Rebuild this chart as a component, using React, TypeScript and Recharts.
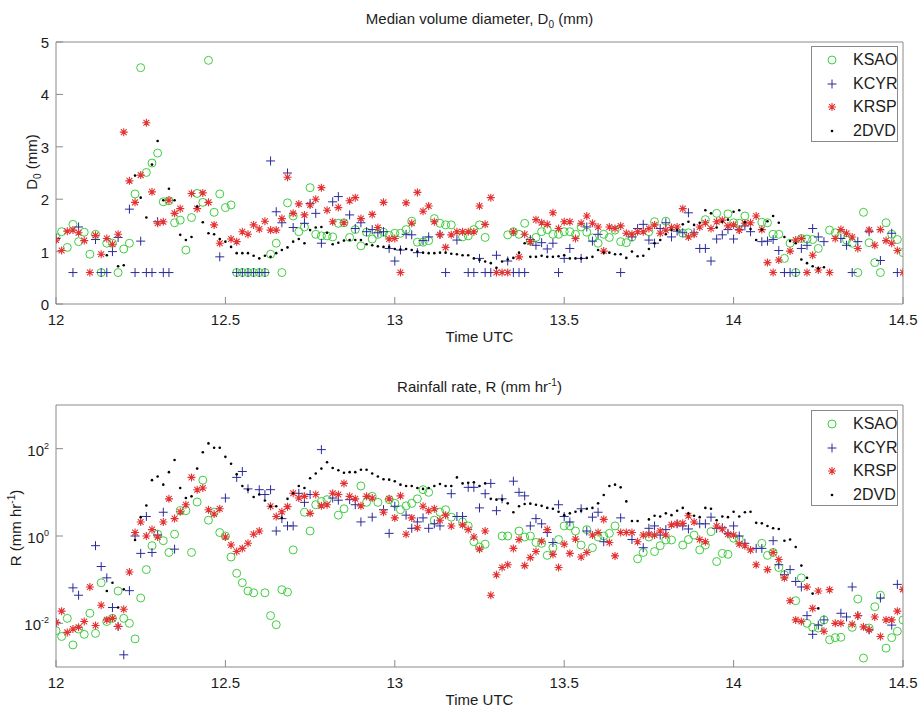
import React from "react";
import { ScatterChart, Scatter, XAxis, YAxis, Legend, Label } from "recharts";

const _ = null;

// one sample per minute, 12:00 -> 14:30 UTC
const startHour = 12;
const sampleCount = 151;
const timeUTC = Array.from({ length: sampleCount }, (_v, i) => startHour + i / 60);

const timeTicks = [12, 12.5, 13, 13.5, 14, 14.5];
const d0Ticks = [0, 1, 2, 3, 4, 5];
const rateTicks = [0.01, 1, 100];

const seriesNames = ["KSAO", "KCYR", "KRSP", "2DVD"];

// median volume diameter D0 (mm)
const ksaoD0 = [
  1.27, 1.38, 1.08, 1.52, 1.19, 1.37, 0.95, 1.33, 0.6, 1.16,
  1.16, 0.6, 1.05, 1.16, 2.1, 4.51, 2.51, 2.69, 2.88, 1.95,
  1.97, 1.55, 1.6, 1.03, 1.65, 2.11, 1.94, 4.65, 1.75, 2.1,
  1.84, 1.89, 0.6, 0.6, 0.6, 0.6, 0.6, 0.6, 0.95, 1.16,
  0.6, 1.93, 1.68, 1.38, 1.47, 2.22, 1.33, 1.3, 1.3, 1.28,
  1.54, 1.55, 1.27, 1.42, 1.11, 1.37, 1.24, 1.33, 1.37, 1.31,
  1.35, 1.35, 1.42, 1.58, 1.18, 1.18, 1.21, 1.63, 1.54, 1.51,
  1.51, _, 1.28, 1.3, 1.42, 1.51, 1.27, _, _, _,
  1.32, 1.38, 1.33, 1.54, 1.2, 1.27, 1.38, 1.42, 1.33, 1.33,
  1.38, 1.38, 1.33, 1.47, 1.37, 1.26, 1.16, 1.33, 1.27, 1.41,
  1.19, 1.17, 1.28, _, _, 1.38, 1.57, _, 1.58, _,
  _, 1.35, 1.36, _, _, 1.61, _, 1.73, _, 1.72,
  1.55, 1.54, 1.68, _, _, 1.56, 1.55, 1.33, 1.33, 0.87,
  1.16, 0.6, 1.25, 1.24, 1.23, 1.06, _, 1.41, 1.36, 1.32,
  1.22, 1.16, 0.6, 1.75, 1.17, 0.79, 0.6, 1.55, 1.33, 1.23,
  0.98,
];
const kcyrD0 = [
  1.25, _, _, 0.6, 1.47, _, _, 1.23, 0.6, 0.6,
  1.0, 1.27, _, 1.81, 0.6, 1.2, 0.6, 0.6, 1.57, 0.6,
  0.6, _, _, _, _, _, _, _, _, 0.9,
  _, _, 0.6, 0.6, 0.6, 0.6, 0.6, 0.6, 2.73, 1.76,
  1.55, 2.5, 1.46, _, 1.54, 1.92, 1.73, 1.16, _, 1.95,
  2.05, _, 1.7, 1.44, 1.55, 1.38, 1.42, 1.36, 1.38, 1.06,
  0.82, 1.03, 1.33, 1.32, 0.98, 1.21, 1.28, _, 1.33, 0.6,
  _, 1.22, _, 0.6, 0.6, 0.87, 0.6, 0.6, 0.93, _,
  0.82, 0.6, 0.6, 0.6, 1.23, 1.12, 1.17, 1.05, 1.16, 0.6,
  0.87, 1.06, _, 0.87, 1.47, 1.2, 1.33, _, _, _,
  0.6, _, 1.28, 1.44, 1.52, 1.22, 1.16, 1.44, 1.55, 1.28,
  1.39, 1.36, 1.74, 1.36, 1.06, 1.06, 0.82, 1.24, 1.32, 1.42,
  1.24, 1.42, 1.49, 1.38, _, 1.19, 1.2, 1.23, 1.02, 0.6,
  0.6, 0.6, 1.06, 1.12, 1.44, 1.28, 1.19, _, _, 1.25,
  1.12, 0.6, 1.19, _, 1.38, _, 0.83, _, 1.35, 0.6,
  _,
];
const krspD0 = [
  1.22, 1.02, 1.39, 1.41, 1.36, 1.21, 0.6, 1.31, 0.95, 1.25,
  1.14, 1.33, 3.28, 2.35, 1.94, 2.46, 3.46, 2.14, 1.54, 1.57,
  1.98, 1.73, 1.82, _, 2.11, 1.82, 2.12, 1.94, 1.51, 1.16,
  _, 1.24, 1.19, 1.38, 1.33, 1.51, 1.43, 1.58, 1.41, 1.41,
  1.63, 2.42, 1.73, 1.91, 1.7, 1.89, 2.0, 2.22, 1.79, 1.57,
  1.84, 1.55, 1.97, 2.03, 1.63, _, 1.71, 1.46, 1.94, 1.24,
  1.25, 0.6, 1.93, 1.54, 2.13, 1.77, 1.87, 1.57, 1.32, 1.08,
  1.32, 1.38, 1.38, 1.38, 1.38, 1.87, 1.52, 2.03, 0.6, 0.6,
  0.6, 1.38, 0.9, 1.33, 1.19, 1.61, 1.55, 1.52, 1.74, 1.44,
  1.57, 1.57, 1.25, 1.54, 1.68, 1.54, 1.47, 1.01, 1.47, 1.44,
  1.49, 1.35, 1.33, 1.38, 1.38, 1.44, 1.51, 1.35, 1.41, 1.46,
  1.47, 1.82, 1.28, 1.33, 1.47, 1.55, 1.44, 1.57, 1.6, 1.49,
  1.51, 1.41, 1.54, 1.55, 1.68, 1.42, 0.79, 0.6, 0.84, _,
  1.01, 1.22, 1.25, 0.6, 0.93, 0.65, _, 0.6, 1.25, 1.42,
  1.35, 1.28, 1.06, _, 1.41, 1.12, 1.42, 1.21, 1.16, 1.02,
  0.6,
];
const dvdD0 = [
  _, _, _, _, _, _, _, _, _, 0.93,
  _, 0.72, 0.74, _, 2.45, 2.03, 1.65, 2.66, 3.11, 1.98,
  2.2, 1.98, 1.32, 1.22, 1.28, 1.86, 1.56, 1.35, 1.33, 1.24,
  1.19, 1.09, 0.97, 0.97, 0.97, 0.92, 0.87, 0.92, 0.9, 0.97,
  1.03, 1.08, 1.19, 1.24, 1.16, 1.41, 1.46, 1.47, 1.36, 1.14,
  1.17, 1.21, 1.22, 1.22, 1.22, 1.14, 1.12, 1.1, 1.09, 1.09,
  1.05, 1.04, 1.05, 1.03, 1.0, 0.98, 0.97, 0.97, 0.98, 0.98,
  0.96, 0.95, 0.93, 0.93, 0.87, 0.84, 0.81, 0.78, 0.69, 0.81,
  0.85, 0.88, 0.98, 1.16, 0.9, 0.9, 0.92, 0.9, 0.9, 0.91,
  0.93, 0.87, 0.87, 0.87, 0.88, 0.9, 1.03, 0.98, 0.98, 0.95,
  0.95, 0.88, 1.0, 0.91, 0.92, 1.05, 1.16, 1.22, 1.33, 1.41,
  1.41, 1.52, 1.57, 1.51, 1.55, 1.79, 1.73, 1.46, 1.57, 1.61,
  1.76, 1.79, 1.56, 1.43, 1.22, 1.42, 1.58, 1.68, 1.55, 1.28,
  1.2, 1.16, 0.85, 0.78, 0.72, 0.68, 0.7, _, _, _,
  _, _, _, _, _, _, _, _, _, _,
  _,
];

// rainfall rate R (mm/hr)
const ksaoR = [
  0.0068, 0.005, 0.013, 0.0032, 0.0074, 0.0056, 0.017, 0.0059, 0.085, 0.011,
  0.013, 0.055, 0.013, 0.01, 0.0044, 0.038, 0.17, 0.6, 1.1, 0.78,
  0.42, 1.1, 3.8, 3.8, 0.42, 6.0, 19, 2.3, 3.5, 1.2,
  1.0, 0.33, 0.14, 0.085, 0.055, 0.05, _, 0.05, 0.015, 0.0093,
  0.059, 0.052, 0.48, _, 3.5, 1.3, 5.2, 6.2, 6.8, _,
  3.0, 4.2, _, _, 14, 5.9, 8.1, 5.9, _, 6.8,
  5.6, 4.0, 4.9, 5.6, 7.1, 11.5, 10, 2.3, 3.5, 4.0,
  2.7, _, 2.1, 1.7, 0.74, 0.56, 0.65, _, _, 1.0,
  1.0, _, 1.3, 0.95, 1.0, 0.71, 0.68, 0.36, 0.54, 0.83,
  1.7, 1.7, 1.3, 0.62, 1.4, 0.54, 0.95, 1.0, 1.15, 1.7,
  _, _, _, 0.3, 0.42, 0.95, 0.44, 0.6, 0.81, 0.81,
  _, 0.62, 0.83, 1.05, 0.48, 0.62, 1.26, 0.26, 0.4, 0.38,
  0.89, 0.83, _, _, _, 0.68, 0.36, 0.42, 0.19, 0.13,
  _, 0.033, 0.11, 0.01, 0.0081, 0.0078, 0.012, 0.0042, 0.0047, 0.0048,
  _, 0.0081, 0.036, 0.0016, 0.0078, 0.024, 0.044, 0.0027, 0.0047, 0.0066,
  0.012,
];
const kcyrR = [
  0.0105, _, _, 0.065, 0.044, _, _, 0.6, 0.2, 0.11,
  0.023, 0.0085, 0.0019, 0.056, 1.0, 0.4, 2.8, 0.42, 1.05, 3.5,
  _, 0.5, _, _, _, _, _, _, _, _,
  7.4, _, 22, 30, 12, _, 11.5, 8.9, 11.5, 1.3,
  2.5, 1.7, 1.7, 9.5, 5.9, 8.9, _, 95, _, 7.4,
  6.6, _, 6.8, 5.2, 2.1, _, 2.7, _, 4.0, 1.15,
  4.8, _, 3.0, 1.5, 2.1, 2.6, 1.5, 1.9, 1.7, _,
  9.3, 2.8, 2.8, 13, 13, 4.4, 9.3, 16, 3.8, 7.1,
  _, 18, 10, 8.3, 1.7, 2.5, 1.9, 1.2, 0.71, 5.2,
  2.8, 2.1, _, 4.2, 1.3, 2.7, 3.5, 0.74, _, _,
  2.6, _, 0.83, _, 0.54, 1.5, 1.7, 1.05, 1.4, _,
  1.9, 1.7, 1.45, _, 1.9, 1.9, 2.7, 1.5, 1.55, 1.15,
  1.7, 1.0, 0.68, _, 0.52, 0.52, _, 0.78, 0.22, 0.13,
  0.17, 0.091, 0.068, 0.015, 0.0056, 0.0091, 0.012, _, _, 0.017,
  0.014, 0.068, 0.015, _, 0.0071, _, 0.038, _, 0.0091, 0.078,
  _,
];
const krspR = [
  0.0105, 0.019, 0.0062, 0.0074, 0.0081, 0.011, 0.068, 0.0089, 0.026, 0.012,
  0.013, 0.0085, 0.021, 0.15, 1.2, 2.1, 1.0, 1.4, 0.95, 2.1,
  7.1, 2.5, 3.6, 5.2, 22, 11.5, 12.6, 4.0, 3.2, 4.2,
  0.95, 0.62, 0.44, 0.52, 0.68, 1.1, 1.3, _, 4.8, 2.8,
  3.6, 4.7, 9.5, 7.4, 8.1, 3.3, 8.9, 4.9, 5.2, 9.5,
  8.9, 16, 8.1, 7.1, 4.9, 8.1, 7.4, _, 3.5, 7.1,
  2.6, 8.3, 1.1, 2.6, 1.55, 4.8, 3.8, 4.2, 2.3, 3.0,
  1.7, _, 1.8, 1.4, 0.95, 0.5, 1.3, 0.044, 0.13, 0.19,
  0.22, 0.52, 0.83, 0.21, 0.32, 0.44, 0.76, 1.4, 0.38, 0.19,
  0.65, 0.4, 0.85, 0.33, 0.42, 1.05, 1.2, 2.4, 0.71, 0.35,
  1.2, 1.2, 1.2, 0.74, 1.05, 1.1, 1.05, 1.3, 1.05, 1.8,
  1.9, 1.95, 2.9, 2.1, 0.83, 0.74, _, 1.7, 1.45, 1.1,
  1.05, 0.66, 0.6, 0.48, 0.22, _, 0.17, 0.42, 0.29, 0.11,
  0.033, 0.012, 0.011, 0.068, 0.022, 0.055, 0.0066, 0.059, 0.01, 0.01,
  _, 0.0095, 0.015, 0.0083, 0.0071, 0.014, 0.005, 0.012, 0.012, 0.019,
  0.06,
];
const dvdR = [
  _, _, _, _, _, _, _, _, _, 0.055,
  0.085, 0.023, 0.06, _, 0.81, 2.7, 5.0, 19, 23, 15,
  29, 55, 12.6, 7.4, 8.1, 35, 83, 132, 105, 105,
  65, 45, 26, 14, 11.5, 7.8, 8.9, 6.5, 4.8, 4.8,
  2.6, 7.1, 9.5, 14, 12.6, 21, 27, 35, 49, 36,
  32, 28, 29, 29, 33, 33, 27, 23, 20, 19.5,
  18, 15, 14, 14, 12.6, 12, 12.6, 14, 15.5, 14,
  14, 22, 16, 16.6, 17, 14, 16, 7.1, 6.8, 6.8,
  5.6, 3.5, 4.8, 5.4, 5.5, 5.2, 4.9, 4.4, 4.2, 3.6,
  3.0, 3.3, 3.6, 3.8, 4.2, 4.4, 5.6, 8.7, 14, 15,
  13, 6.2, 2.2, 2.2, _, 2.4, 2.9, 2.8, 3.3, 3.0,
  3.8, 4.4, 3.3, 2.9, 2.7, 4.4, 4.2, 2.3, 2.8, 2.7,
  3.6, 2.8, 3.5, 3.6, 2.0, 1.95, 1.7, 1.5, 1.45, 0.78,
  0.83, 0.56, 0.21, 0.11, 0.048, 0.022, _, _, _, _,
  _, _, _, _, _, _, _, _, _, _,
  _,
];

const GREEN = "#3fce3f";
const BLUE = "#2a2a9c";
const RED = "#e43232";
const AXIS = "#8a8a8a";
const INK = "#1c1c1c";
const FONT = "'Liberation Sans', Arial, Helvetica, sans-serif";

function toPoints(values: (number | null)[]) {
  return values.flatMap((v, i) => (v == null ? [] : [{ t: timeUTC[i], v }]));
}

type MarkProps = { cx?: number; cy?: number };

const Ring = ({ cx = 0, cy = 0 }: MarkProps) => (
  <circle cx={cx} cy={cy} r={4} fill="none" stroke={GREEN} strokeWidth={1} />
);
const Plus = ({ cx = 0, cy = 0 }: MarkProps) => (
  <path d={`M${cx - 4.5} ${cy}H${cx + 4.5}M${cx} ${cy - 4.5}V${cy + 4.5}`} stroke={BLUE} strokeWidth={1} />
);
const Asterisk = ({ cx = 0, cy = 0 }: MarkProps) => {
  const r = 4;
  const d = 2.9;
  return (
    <path
      d={`M${cx - r} ${cy}H${cx + r}M${cx} ${cy - r}V${cy + r}M${cx - d} ${cy - d}L${cx + d} ${cy + d}M${cx - d} ${cy + d}L${cx + d} ${cy - d}`}
      stroke={RED}
      strokeWidth={1.1}
    />
  );
};
const Dot = ({ cx = 0, cy = 0 }: MarkProps) => <circle cx={cx} cy={cy} r={1.3} fill="#000" />;

const markers = [Ring, Plus, Asterisk, Dot];

const LegendBox = () => (
  <div style={{ position: "relative", width: 87, height: 96, border: `1px solid ${AXIS}`, boxSizing: "border-box", background: "#fff", fontFamily: FONT }}>
    {seriesNames.map((name, k) => {
      const Mark = markers[k];
      return (
        <div key={name} style={{ position: "absolute", left: 0, top: 3 + k * 23.6, height: 20, display: "flex", alignItems: "center" }}>
          <svg width={41} height={20}>
            <Mark cx={20} cy={10} />
          </svg>
          <span style={{ fontSize: 16, color: INK }}>{name}</span>
        </div>
      );
    })}
  </div>
);

const XTick = ({ x, y, payload }: any) => (
  <text x={x} y={y + 11} textAnchor="middle" fontSize={15} fill={INK} fontFamily={FONT}>
    {payload.value}
  </text>
);
const LinTick = ({ x, y, payload }: any) => (
  <text x={x} y={y + 6} textAnchor="end" fontSize={15} fill={INK} fontFamily={FONT}>
    {payload.value}
  </text>
);
const PowTick = ({ x, y, payload }: any) => (
  <text x={x} y={y + 7} textAnchor="end" fontSize={15} fill={INK} fontFamily={FONT}>
    <tspan>10</tspan>
    <tspan dy={-7} fontSize={9}>{Math.round(Math.log10(payload.value))}</tspan>
  </text>
);

const axisLineStyle = { stroke: AXIS, strokeWidth: 1 };

export default function App() {
  const topSets = [ksaoD0, kcyrD0, krspD0, dvdD0].map(toPoints);
  const botSets = [ksaoR, kcyrR, krspR, dvdR].map(toPoints);

  // axes get a 1px band (recharts skips zero-size axes), margins take it back
  return (
    <div style={{ position: "absolute", left: 0, top: 0, width: 923, height: 715, background: "#fff", fontFamily: FONT }}>
      <ScatterChart width={923} height={357} margin={{ top: 41, right: 19, bottom: 52, left: 55 }}>
        <XAxis type="number" dataKey="t" domain={[12, 14.5]} ticks={timeTicks} allowDataOverflow height={1}
          tickSize={-7} tickMargin={17} axisLine={axisLineStyle} tickLine={axisLineStyle} tick={<XTick />}>
          <Label content={({ viewBox }: any) => (
            <text x={viewBox.x + viewBox.width / 2} y={342} textAnchor="middle" fontSize={15} fill={INK} fontFamily={FONT}>Time UTC</text>
          )} />
        </XAxis>
        <XAxis xAxisId="top" orientation="top" type="number" domain={[12, 14.5]} ticks={timeTicks} allowDataOverflow height={1}
          tickSize={-7} axisLine={axisLineStyle} tickLine={axisLineStyle} tick={false}>
          <Label content={({ viewBox }: any) => (
            <text x={viewBox.x + viewBox.width / 2} y={24} textAnchor="middle" fontSize={15} fill={INK} fontFamily={FONT}>
              Median volume diameter, D<tspan dy={4} fontSize={10}>0</tspan><tspan dy={-4}> (mm)</tspan>
            </text>
          )} />
        </XAxis>
        <YAxis type="number" dataKey="v" domain={[0, 5]} ticks={d0Ticks} allowDataOverflow width={1}
          tickSize={-7} tickMargin={14} axisLine={axisLineStyle} tickLine={axisLineStyle} tick={<LinTick />}>
          <Label content={() => (
            <text x={37} y={162} transform="rotate(-90 37 162)" textAnchor="middle" fontSize={15} fill={INK} fontFamily={FONT}>
              D<tspan dy={4} fontSize={10}>0</tspan><tspan dy={-4}> (mm)</tspan>
            </text>
          )} />
        </YAxis>
        <YAxis yAxisId="right" orientation="right" type="number" domain={[0, 5]} ticks={d0Ticks} allowDataOverflow width={1}
          tickSize={-7} axisLine={axisLineStyle} tickLine={axisLineStyle} tick={false} />
        {topSets.map((pts, k) => (
          <Scatter key={seriesNames[k]} name={seriesNames[k]} data={pts} shape={markers[k]} isAnimationActive={false} />
        ))}
        <Legend layout="horizontal" verticalAlign="middle" align="center"
          wrapperStyle={{ left: 811, top: 46, width: 87, height: 96 }} content={() => <LegendBox />} />
      </ScatterChart>

      <ScatterChart width={923} height={358} margin={{ top: 47, right: 19, bottom: 47, left: 55 }}>
        <XAxis type="number" dataKey="t" domain={[12, 14.5]} ticks={timeTicks} allowDataOverflow height={1}
          tickSize={-7} tickMargin={17} axisLine={axisLineStyle} tickLine={axisLineStyle} tick={<XTick />}>
          <Label content={({ viewBox }: any) => (
            <text x={viewBox.x + viewBox.width / 2} y={348} textAnchor="middle" fontSize={15} fill={INK} fontFamily={FONT}>Time UTC</text>
          )} />
        </XAxis>
        <XAxis xAxisId="top" orientation="top" type="number" domain={[12, 14.5]} ticks={timeTicks} allowDataOverflow height={1}
          tickSize={-7} axisLine={axisLineStyle} tickLine={axisLineStyle} tick={false}>
          <Label content={({ viewBox }: any) => (
            <text x={viewBox.x + viewBox.width / 2} y={35} textAnchor="middle" fontSize={15} fill={INK} fontFamily={FONT}>
              Rainfall rate, R (mm hr<tspan dy={-6} fontSize={10}>-1</tspan><tspan dy={6}>)</tspan>
            </text>
          )} />
        </XAxis>
        <YAxis type="number" dataKey="v" scale="log" domain={[0.001, 1000]} ticks={rateTicks} allowDataOverflow width={1}
          tickSize={-7} tickMargin={14} axisLine={axisLineStyle} tickLine={axisLineStyle} tick={<PowTick />}>
          <Label content={() => (
            <text x={21} y={171} transform="rotate(-90 21 171)" textAnchor="middle" fontSize={15} fill={INK} fontFamily={FONT}>
              R (mm hr<tspan dy={-6} fontSize={10}>-1</tspan><tspan dy={6}>)</tspan>
            </text>
          )} />
        </YAxis>
        <YAxis yAxisId="right" orientation="right" type="number" scale="log" domain={[0.001, 1000]} ticks={rateTicks} allowDataOverflow width={1}
          tickSize={-7} axisLine={axisLineStyle} tickLine={axisLineStyle} tick={false} />
        {botSets.map((pts, k) => (
          <Scatter key={seriesNames[k]} name={seriesNames[k]} data={pts} shape={markers[k]} isAnimationActive={false} />
        ))}
        <Legend layout="horizontal" verticalAlign="middle" align="center"
          wrapperStyle={{ left: 811, top: 53, width: 87, height: 96 }} content={() => <LegendBox />} />
      </ScatterChart>
    </div>
  );
}
